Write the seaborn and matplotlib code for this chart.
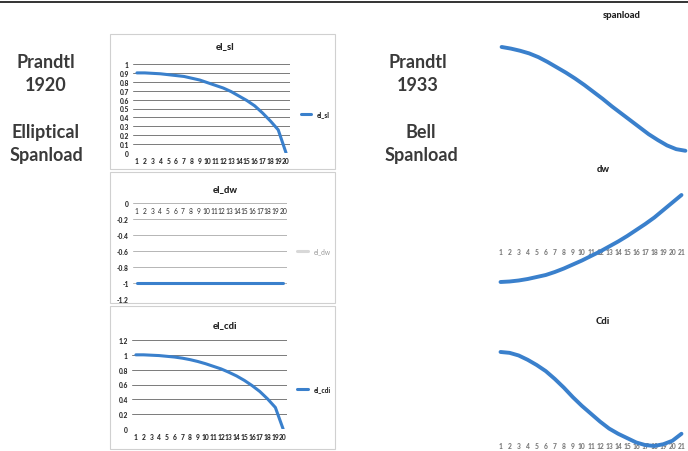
import numpy as np
import pandas as pd
import seaborn as sns
import matplotlib.pyplot as plt
from matplotlib.lines import Line2D
from matplotlib.patches import Rectangle

# elliptical spanload (Prandtl 1920), 20 stations
el_x = list(range(1, 21))
el_sl = [0.90, 0.90, 0.895, 0.89, 0.88, 0.87, 0.86, 0.84, 0.82, 0.79,
         0.76, 0.73, 0.69, 0.64, 0.59, 0.53, 0.45, 0.36, 0.26, 0.0]
el_dw = [-1.0] * 20
el_cdi = [1.0, 1.0, 0.995, 0.99, 0.98, 0.97, 0.955, 0.935, 0.91, 0.88,
          0.845, 0.81, 0.765, 0.715, 0.655, 0.585, 0.505, 0.405, 0.29, 0.0]

# bell spanload (Prandtl 1933), 21 stations
bell_x = list(range(1, 22))
bell_sl = [1.00, 0.985, 0.965, 0.94, 0.905, 0.86, 0.81, 0.76, 0.705, 0.645, 0.58,
           0.515, 0.445, 0.38, 0.315, 0.25, 0.185, 0.13, 0.08, 0.045, 0.03]
bell_dw = [-0.74, -0.73, -0.71, -0.68, -0.64, -0.60, -0.54, -0.47, -0.39, -0.31, -0.22,
           -0.13, -0.03, 0.07, 0.18, 0.30, 0.42, 0.55, 0.70, 0.85, 1.0]
bell_cdi = [1.0, 0.99, 0.96, 0.91, 0.85, 0.78, 0.69, 0.59, 0.48, 0.38, 0.29,
            0.20, 0.12, 0.06, 0.01, -0.04, -0.07, -0.08, -0.06, -0.02, 0.06]

sns.set_theme(style='white')
plt.rcParams['font.family'] = ['Lato', 'DejaVu Sans']

W, H = 688, 452
fig = plt.figure(figsize=(W / 100, H / 100), dpi=100)
blue = '#3a80cc'


def ax_px(x0, y0, x1, y1):
    return fig.add_axes([x0 / W, 1 - y1 / H, (x1 - x0) / W, (y1 - y0) / H])


def ftext(x, y, s, **kw):
    fig.text(x / W, 1 - y / H, s, ha='center', va='center', **kw)


# frames of the pasted excel charts
for (x0, y0, x1, y1) in [(110, 35, 335, 170), (110, 173, 335, 304), (110, 307, 335, 450)]:
    fig.add_artist(Rectangle((x0 / W, 1 - y1 / H), (x1 - x0) / W, (y1 - y0) / H,
                             transform=fig.transFigure, fill=False, ec='#d0d0d0', lw=0.8))


def left_chart(ax, y, lo, hi, step, name, grid, leg_y, leg_col=None):
    df = pd.DataFrame({'x': el_x, 'y': y})
    sns.lineplot(data=df, x='x', y='y', ax=ax, color=blue, lw=2.2, label=name)
    ax.set_xlim(0.5, 20.5)
    ax.set_ylim(lo, hi)
    ticks = np.round(np.arange(lo, hi + step / 2, step), 1)
    ax.set_yticks(ticks)
    ax.set_yticklabels(['%g' % (t if t != 0 else 0) for t in ticks])
    ax.set_xticks(el_x)
    ax.set_xticklabels([str(i) for i in el_x])
    ax.tick_params(length=0, labelsize=4.8, pad=3, colors='#2a2a2a')
    for t in ax.get_xticklabels() + ax.get_yticklabels():
        t.set_fontweight('black')
    ax.set_xlabel('')
    ax.set_ylabel('')
    for s in ax.spines.values():
        s.set_visible(False)
    for t in ticks:
        ax.axhline(t, color=grid, lw=0.7, zorder=0)
    ax.patch.set_alpha(0)
    if leg_col:
        handles = [Line2D([], [], color=leg_col, lw=2.2)]
        lg = ax.legend(handles, [name], loc='center left', bbox_to_anchor=(1.05, leg_y),
                       frameon=False, fontsize=4.8, handlelength=1.6, borderaxespad=0)
        lg.get_texts()[0].set_color('#999999')
    else:
        lg = ax.legend(loc='center left', bbox_to_anchor=(1.05, leg_y), frameon=False,
                       fontsize=4.8, handlelength=1.6, borderaxespad=0)
        lg.get_texts()[0].set_fontweight('black')


ax1 = ax_px(133, 65, 290, 154)
left_chart(ax1, el_sl, 0, 1.0, 0.1, 'el_sl', '#7a7a7a', 0.44)
ax2 = ax_px(133, 204, 287, 300)
left_chart(ax2, el_dw, -1.2, 0, 0.2, 'el_dw', '#b5b5b5', 0.5, leg_col='#d8d8d8')
ax2.spines['bottom'].set_position(('data', 0))
ax3 = ax_px(132, 341, 287, 430)
left_chart(ax3, el_cdi, 0, 1.2, 0.2, 'el_cdi', '#7a7a7a', 0.45)

small = dict(fontsize=6.8, fontweight='black', color='#222222')
ftext(225, 47, 'el_sl', **small)
ftext(225, 190, 'el_dw', **small)
ftext(225, 326, 'el_cdi', **small)


def right_chart(ax, y, lo, hi, labels):
    df = pd.DataFrame({'x': bell_x, 'y': y})
    sns.lineplot(data=df, x='x', y='y', ax=ax, color=blue, lw=2.8)
    ax.set_xlim(0.5, 21.5)
    ax.set_ylim(lo, hi)
    ax.set_yticks([])
    ax.set_xlabel('')
    ax.set_ylabel('')
    for s in ax.spines.values():
        s.set_visible(False)
    ax.patch.set_alpha(0)
    if labels:
        ax.spines['bottom'].set_position(('data', 0))
        ax.set_xticks(bell_x)
        ax.set_xticklabels([str(i) for i in bell_x])
        ax.tick_params(axis='x', length=0, labelsize=4.8, pad=2, colors='#7a7a7a')
        for t in ax.get_xticklabels():
            t.set_fontweight('black')
    else:
        ax.set_xticks([])


ax4 = ax_px(497, 30, 690, 160)
right_chart(ax4, bell_sl, -0.047, 1.168, False)
ax5 = ax_px(496, 180, 686, 295)
right_chart(ax5, bell_dw, -0.98, 1.32, True)
ax6 = ax_px(496, 330, 686, 452)
right_chart(ax6, bell_cdi, -0.138, 1.264, True)

ftext(622, 15, 'spanload', **small)
ftext(603, 170, 'dw', **small)
ftext(603, 321, 'Cdi', **small)

# slide labels
big = dict(fontsize=13, color='#3a3a3a', linespacing=1.4, fontweight='bold')
ftext(46, 74, 'Prandtl\n1920', **big)
ftext(46, 144, 'Elliptical\nSpanload', **big)
ftext(418, 74, 'Prandtl\n1933', **big)
ftext(421, 144, 'Bell\nSpanload', **big)

# top border line of the slide
fig.add_artist(Line2D([0, 1], [1 - 3 / H, 1 - 3 / H], transform=fig.transFigure,
                      color='#111111', lw=1.2))

fig.savefig('out.png', dpi=100)
